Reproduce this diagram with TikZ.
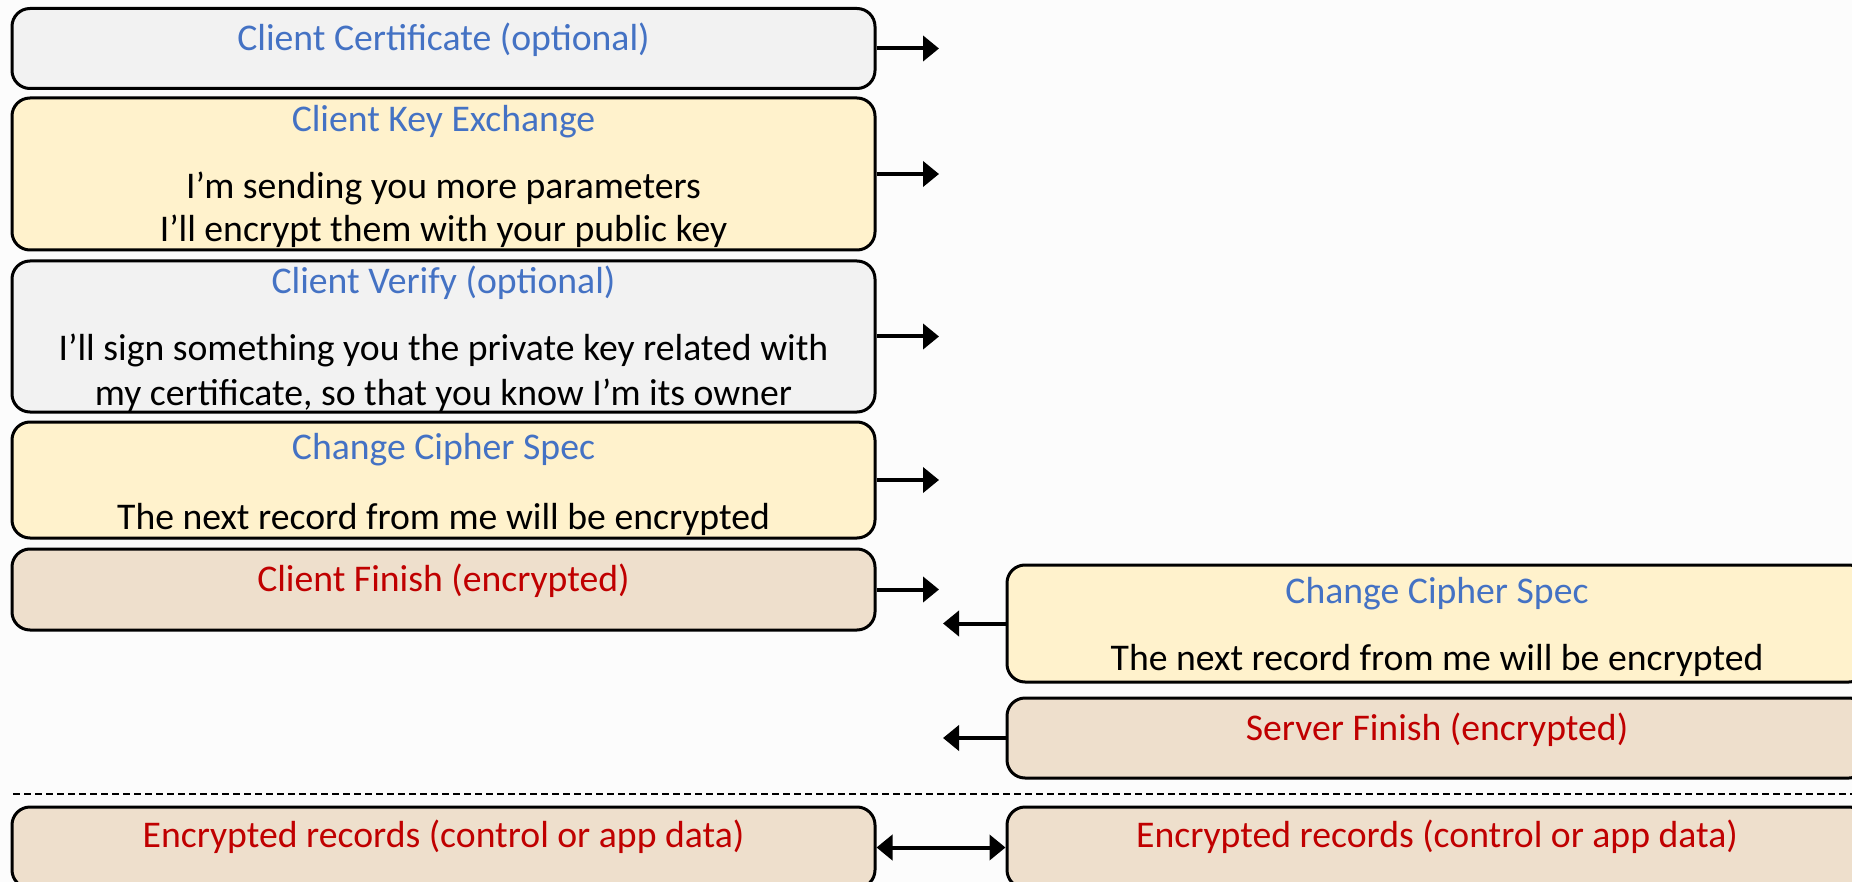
\documentclass[tikz,border=0pt]{standalone}
\usepackage{fontspec}
\setmainfont{Carlito}
\usetikzlibrary{arrows.meta}
\definecolor{bg}{HTML}{FCFCFC}
\definecolor{grayfill}{HTML}{F2F2F2}
\definecolor{yellowfill}{HTML}{FFF2CC}
\definecolor{tanfill}{HTML}{EEDFCC}
\definecolor{titleblue}{HTML}{4472C4}
\definecolor{titlered}{HTML}{C00000}
\begin{document}
\begin{tikzpicture}[x=1pt,y=-1pt,
  msg/.style={draw=black, line width=3pt, rounded corners=18pt, inner sep=0pt},
  clientmsg/.style={msg, minimum width=863pt},
  servermsg/.style={msg, minimum width=860pt},
  txt/.style={anchor=base, inner sep=0pt, font=\fontsize{37.7}{43}\selectfont},
  bluetxt/.style={txt, text=titleblue},
  redtxt/.style={txt, text=titlered},
  flow/.style={line width=4pt, -{Triangle[length=16pt,width=25pt]}},
  flowboth/.style={line width=4pt, {Triangle[length=16pt,width=25pt]}-{Triangle[length=16pt,width=25pt]}},
  divider/.style={line width=2pt, dash pattern=on 7pt off 4pt}
]
\useasboundingbox (0,0) rectangle (1852,882);
\clip (0,0) rectangle (1852,882);
\fill[bg] (0,0) rectangle (1852,882);

% ---- client side ----
\node[clientmsg, fill=grayfill, minimum height=80pt] (cc) at (443.5,48.5) {};
\node[bluetxt] (ccT) at (443.5,51) {Client Certificate (optional)};

\node[clientmsg, fill=yellowfill, minimum height=152pt] (cke) at (443.5,174) {};
\node[bluetxt] (ckeT) at (443.5,132) {Client Key Exchange};
\node[txt] (ckeA) at (443.5,199) {I’m sending you more parameters};
\node[txt] (ckeB) at (443.5,242) {I’ll encrypt them with your public key};

\node[clientmsg, fill=grayfill, minimum height=151pt] (cv) at (443.5,336.5) {};
\node[bluetxt] (cvT) at (443.5,294) {Client Verify (optional)};
\node[txt] (cvA) at (443.5,361) {I’ll sign something you the private key related with};
\node[txt] (cvB) at (443.5,405) {my certificate, so that you know I’m its owner};

\node[clientmsg, fill=yellowfill, minimum height=116pt] (ccs) at (443.5,480) {};
\node[bluetxt] (ccsT) at (443.5,459) {Change Cipher Spec};
\node[txt] (ccsA) at (443.5,529) {The next record from me will be encrypted};

\node[clientmsg, fill=tanfill, minimum height=81pt] (cf) at (443.5,589.5) {};
\node[redtxt] (cfT) at (443.5,591) {Client Finish (encrypted)};

\node[clientmsg, fill=tanfill, minimum height=81pt] (encL) at (443.5,847.5) {};
\node[redtxt] (encLT) at (443.5,847) {Encrypted records (control or app data)};

% ---- server side ----
\node[servermsg, fill=yellowfill, minimum height=117pt] (sccs) at (1437,623.5) {};
\node[bluetxt] (sccsT) at (1437,603) {Change Cipher Spec};
\node[txt] (sccsA) at (1437,670) {The next record from me will be encrypted};

\node[servermsg, fill=tanfill, minimum height=80pt] (sf) at (1437,738) {};
\node[redtxt] (sfT) at (1437,740) {Server Finish (encrypted)};

\node[servermsg, fill=tanfill, minimum height=81pt] (encR) at (1437,847.5) {};
\node[redtxt] (encRT) at (1437,847) {Encrypted records (control or app data)};

% ---- arrow ends ----
\coordinate (ccE) at (939,48.5);
\coordinate (ckeE) at (939,174);
\coordinate (cvE) at (939,336.5);
\coordinate (ccsE) at (939,480);
\coordinate (cfE) at (939,589.5);
\coordinate (sccsE) at (943,623.5);
\coordinate (sfE) at (943,738);

\draw[flow] (cc.east) -- (ccE);
\draw[flow] (cke.east) -- (ckeE);
\draw[flow] (cv.east) -- (cvE);
\draw[flow] (ccs.east) -- (ccsE);
\draw[flow] (cf.east) -- (cfE);
\draw[flow] (sccs.west) -- (sccsE);
\draw[flow] (sf.west) -- (sfE);
\draw[flowboth] (encL.east) -- (encR.west);

% ---- divider ----
\coordinate (divL) at (13,794);
\coordinate (divR) at (1852,794);
\draw[divider] (divL) -- (divR);
\end{tikzpicture}
\end{document}
